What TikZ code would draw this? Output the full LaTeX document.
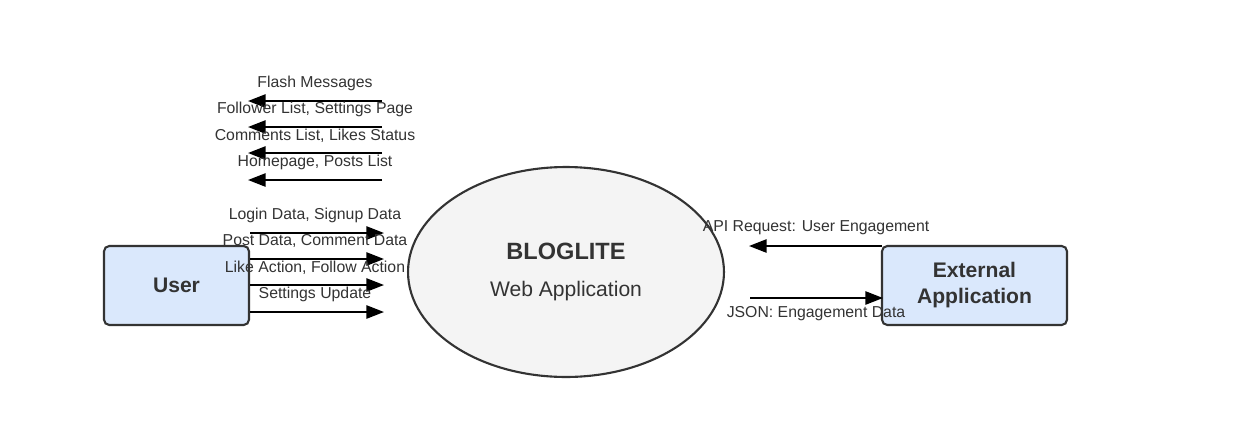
\documentclass[tikz,border=0pt]{standalone}
\usepackage{fontspec}
\setmainfont{Liberation Sans}
\usetikzlibrary{positioning, shapes, arrows.meta}
\definecolor{boxblue}{HTML}{DAE8FC}
\definecolor{procgray}{HTML}{F4F4F4}
\definecolor{edgegray}{HTML}{333333}
\begin{document}
\begin{tikzpicture}[
        x=0.02cm, y=-0.02cm,
        entity/.style={rectangle, rounded corners=3pt, draw=edgegray, line width=1.2pt, fill=boxblue, align=center, font=\fontsize{12}{14.8}\selectfont\bfseries, text=edgegray},
        process/.style={ellipse, draw=edgegray, line width=1.2pt, fill=procgray, align=center, minimum width=6.32cm, minimum height=4.2cm, text=edgegray},
        flowlabel/.style={font=\fontsize{9}{10}\selectfont, text=edgegray, inner sep=0pt},
        flow/.style={-{Triangle[length=10pt,width=7.5pt]}, line width=1.1pt}
    ]
    \useasboundingbox (0,0) rectangle (1244,443);

    % External entities
    \node[entity, minimum width=2.9cm, minimum height=1.58cm] (user) at (176.5,285.5) {User};
    \node[entity, minimum width=3.7cm, minimum height=1.58cm] (extapp) at (974.5,285.5) {External\\Application};

    % Main process
    \node[process] (bloglite) at (566,272) {{\fontsize{13.4}{14}\selectfont\bfseries BLOGLITE}\\[9pt]{\fontsize{12}{14}\selectfont Web Application}};

    % Outgoing data to the user
    \coordinate (flashS) at (382,101);   \coordinate (flashE) at (248,101);
    \coordinate (followS) at (382,127);  \coordinate (followE) at (248,127);
    \coordinate (commS) at (382,153);    \coordinate (commE) at (248,153);
    \coordinate (homeS) at (382,180);    \coordinate (homeE) at (248,180);

    \draw[flow] (flashS) -- (flashE);
    \draw[flow] (followS) -- (followE);
    \draw[flow] (commS) -- (commE);
    \draw[flow] (homeS) -- (homeE);

    \node[flowlabel] (flashlbl) at (315,83) {Flash Messages};
    \node[flowlabel] (followlbl) at (315,109) {Follower List, Settings Page};
    \node[flowlabel] (commlbl) at (315,136) {Comments List, Likes Status};
    \node[flowlabel] (homelbl) at (315,162) {Homepage, Posts List};

    % Incoming data from the user
    \coordinate (loginS) at (250,233);   \coordinate (loginE) at (384,233);
    \coordinate (postS) at (250,259);    \coordinate (postE) at (384,259);
    \coordinate (likeS) at (250,285);    \coordinate (likeE) at (384,285);
    \coordinate (setS) at (250,312);     \coordinate (setE) at (384,312);

    \draw[flow] (loginS) -- (loginE);
    \draw[flow] (postS) -- (postE);
    \draw[flow] (likeS) -- (likeE);
    \draw[flow] (setS) -- (setE);

    \node[flowlabel] (loginlbl) at (315,215) {Login Data, Signup Data};
    \node[flowlabel] (postlbl) at (315,241) {Post Data, Comment Data};
    \node[flowlabel] (likelbl) at (315,268) {Like Action, Follow Action};
    \node[flowlabel] (setlbl) at (315,294) {Settings Update};

    % External application exchange
    \coordinate (apiS) at (882,246);     \coordinate (apiE) at (749,246);
    \coordinate (jsonS) at (750,298);    \coordinate (jsonE) at (883,298);
    \draw[flow] (apiS) -- (apiE);
    \draw[flow] (jsonS) -- (jsonE);

    \node[flowlabel] (apilbl) at (816,228) {API Request: User Engagement};
    \node[flowlabel] (jsonlbl) at (816,314) {JSON: Engagement Data};

\end{tikzpicture}
\end{document}
